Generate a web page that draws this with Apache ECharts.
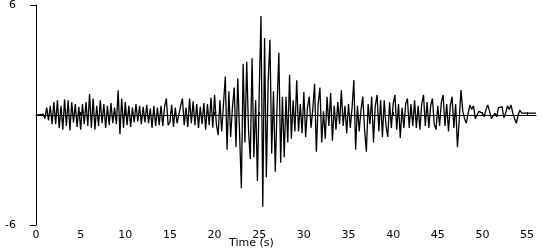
<!DOCTYPE html>
<html>
<head>
<meta charset="utf-8">
<script src="https://cdn.jsdelivr.net/npm/echarts@6/dist/echarts.min.js"></script>
<style>
html,body{margin:0;padding:0;background:#fff;}
#c{width:550px;height:250px;}
</style>
</head>
<body>
<div id="c"></div>
<script>
// Sample spacing of the record (seconds)
const sampleStep = 0.2;
// Acceleration values (cm/s/s), one row per second
const accel = [
  0, 0, 0, 0, 0.05,
  -0.2, 0.4, -0.3, 0.5, -0.5,
  0.7, -0.5, 0.8, -0.7, 0.5,
  -0.8, 0.85, -0.6, 0.8, -0.85,
  0.7, -0.4, 0.6, -0.65, 0.45,
  -0.8, 0.6, -0.5, 0.7, -0.6,
  1.15, -0.7, 0.9, -0.8, 0.5,
  -0.6, 0.8, -0.45, 0.6, -0.7,
  0.5, -0.55, 0.65, -0.45, 0.4,
  -0.5, 1.35, -1.05, 0.9, -0.7,
  0.7, -0.55, 0.5, -0.65, 0.4,
  -0.4, 0.6, -0.35, 0.5, -0.5,
  0.45, -0.4, 0.55, -0.45, 0.35,
  -0.7, 0.5, -0.6, 0.4, -0.55,
  0.5, -0.6, 0.45, 0.9, -0.55,
  -0.4, 0.55, -0.65, 0.4, -0.45,
  -0.35, 0.5, 0.9, -0.55, 0.4,
  -0.65, 0.9, -0.45, 0.75, -0.55,
  0.6, -0.7, 0.45, -0.5, 0.65,
  -0.8, 0.6, -0.55, 0.95, -0.7,
  1.1, -0.5, -1.1, 0.8, -0.9,
  0.6, 2.1, -1.9, 1.3, -1.2,
  0.4, 1.5, -1.75, 2.0, -1.0,
  -4.0, 2.8, -1.5, 2.9, -0.8,
  -2.4, 3.1, -2.3, 0.8, -3.6,
  1.2, 5.4, -5.0, 4.2, -3.4,
  1.8, 4.1, -2.1, 1.3, -3.1,
  0.5, 3.4, -2.6, 1.0, -2.3,
  1.0, -1.5, 2.2, -1.3, 0.8,
  -0.9, 1.9, -0.9, 0.6, -1.0,
  1.25, -1.2, 0.4, 1.0, -0.7,
  0.3, 1.7, -2.0, 0.6, 1.5,
  -1.5, 0.2, -1.3, 1.0, -0.6,
  1.2, -1.4, 0.5, -0.8, 0.7,
  -0.5, 1.35, -0.6, 0.5, -1.0,
  0.6, -0.7, 0.4, 1.9, -1.9,
  0.5, -0.9, 0.3, 1.0, -0.8,
  -2.0, 0.6, -0.5, 1.0, -1.5,
  0.5, 1.1, -0.9, 0.8, -1.2,
  0.8, -0.6, -1.2, 0.7, -0.7,
  0.6, 1.1, -0.8, 0.6, -1.25,
  0.4, -0.7, 0.6, 0.9, -0.7,
  0.6, -0.6, 0.8, -0.7, 0.5,
  -0.8, 0.6, 1.1, -0.6, 0.7,
  -0.7, 0.5, 0.9, -0.5, -0.8,
  0.5, -0.6, 0.7, 1.1, -0.6,
  0.6, -0.9, 0.5, 1.0, -0.7,
  0.6, -1.75, -0.3, 1.36, 0.2,
  -0.2, -0.45, 0.1, 0.55, 0.3,
  0.5, -0.2, -0.3, 0.2, 0.27,
  0.1, -0.1, 0.3, 0.55, 0.2,
  -0.2, -0.15, 0.1, -0.1, 0.4,
  0.3, 0.45, -0.15, 0.1, 0.5,
  0.3, 0.55, 0.1, -0.2, -0.45,
  0.0, 0.27, 0.1, 0.1, 0.1,
  0.08, 0.1, 0.12, 0.1, 0.1,
  0.1
];
const xTickLabels = [0, 5, 10, 15, 20, 25, 30, 35, 40, 45, 50, 55];
const yTickLabels = [-6, 6];
const xTitle = 'Time (s)';
const yTitle = 'cm/s/s';

const seriesData = accel.map((v, i) => [Math.round(i * sampleStep * 10) / 10, v]);

const chart = echarts.init(document.getElementById('c'), null, {renderer: 'canvas'});
const font = 'DejaVu Sans';
chart.setOption({
  animation: false,
  backgroundColor: '#fff',
  grid: {left: 36, right: 14, top: 5, bottom: 25, containLabel: false, outerBoundsMode: 'none'},
  xAxis: {
    type: 'value', min: 0, max: 56,
    axisLine: {show: true, lineStyle: {color: '#000', width: 1}},
    axisTick: {show: true, inside: true, length: 3, lineStyle: {color: '#000'}, customValues: xTickLabels},
    axisLabel: {color: '#000', fontFamily: font, fontSize: 11, margin: 5, customValues: xTickLabels},
    splitLine: {show: false}
  },
  yAxis: {
    type: 'value', min: -6, max: 6,
    name: yTitle, nameLocation: 'middle', nameGap: 21,
    nameTextStyle: {color: '#000', fontFamily: font, fontSize: 11},
    axisLine: {show: true, onZero: false, lineStyle: {color: '#000', width: 1}},
    axisTick: {show: true, inside: false, length: 6, lineStyle: {color: '#000'}, customValues: yTickLabels},
    axisLabel: {color: '#000', fontFamily: font, fontSize: 11, margin: 20, customValues: yTickLabels},
    splitLine: {show: false}
  },
  graphic: [{
    type: 'text', left: 229, top: 238,
    style: {text: xTitle, fill: '#000', font: '11px ' + font}
  }],
  series: [{
    type: 'line', data: seriesData, showSymbol: false, smooth: false,
    sampling: null,
    lineStyle: {color: '#000', width: 1.3}
  }]
});
</script>
</body>
</html>
